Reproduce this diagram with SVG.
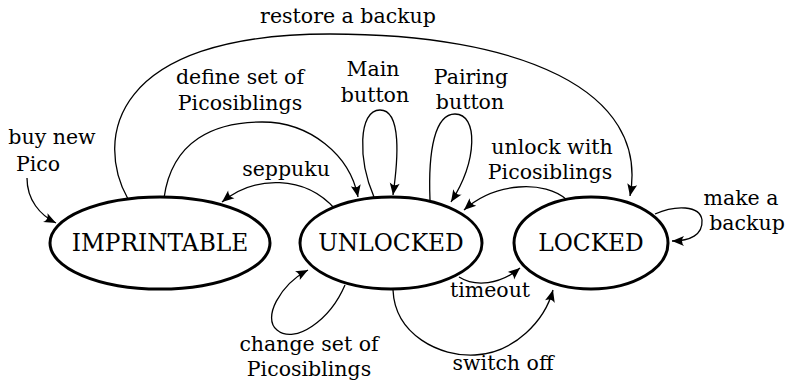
<svg xmlns="http://www.w3.org/2000/svg" width="788" height="382" viewBox="0 0 788 382">
<style>
.node{fill:#fff;stroke:#000;stroke-width:3}
text{fill:#000;text-anchor:middle}
.nl{font-size:23.3px}
.el{font-size:20.5px}
.edge{fill:none;stroke:#000;stroke-width:1.3;marker-end:url(#arr)}
</style>
<defs>
<marker id="arr" viewBox="-13 -6 14 12" refX="0" refY="0" markerWidth="14" markerHeight="12" markerUnits="userSpaceOnUse" orient="auto">
<path d="M0,0 L-12,-5 Q-8,0 -12,5 Z" fill="#000"/>
</marker>
</defs>
<g id="connectors">
<path class="edge" d="M27,178 C27,200 40,215 56,223"/>
<path class="edge" d="M128,199 C95,140 110,34 330,34 C520,34 650,90 630,196"/>
<path class="edge" d="M164,198 C172,140 215,122 262,122 C310,122 350,155 358,197"/>
<path class="edge" d="M335,209 C305,175 255,175 222,202"/>
<path class="edge" d="M374,197 C358,160 358,110 380,110 C402,110 398,160 393,195"/>
<path class="edge" d="M430,200 C428,150 435,114 455,114 C478,114 478,160 451,202"/>
<path class="edge" d="M567,200 C545,180 495,182 464,210"/>
<path class="edge" d="M655,214 C675,205 700,205 702,220 C703,235 690,241 672,241"/>
<path class="edge" d="M459,277 C475,287 500,285 520,268"/>
<path class="edge" d="M393,290 C395,335 440,357 475,355 C515,353 545,320 553,290"/>
<path class="edge" d="M345,285 C330,320 295,345 277,330 C262,318 280,285 308,270"/>
</g>
<g font-family="DejaVu Serif, serif">
<g id="imprintable">
<ellipse class="node" cx="160" cy="243" rx="110" ry="46"/>
<text class="nl" x="160" y="251">IMPRINTABLE</text>
</g>
<g id="unlocked">
<ellipse class="node" cx="391" cy="243" rx="91" ry="46"/>
<text class="nl" x="391" y="251">UNLOCKED</text>
</g>
<g id="locked">
<ellipse class="node" cx="591" cy="243" rx="77" ry="46"/>
<text class="nl" x="591" y="251">LOCKED</text>
</g>
<g id="labels">
<text class="el" x="52" y="144">buy new<tspan x="38" y="171">Pico</tspan></text>
<text class="el" x="348" y="23">restore a backup</text>
<text class="el" x="240" y="84">define set of<tspan x="240" y="110">Picosiblings</tspan></text>
<text class="el" x="373" y="76">Main<tspan x="375" y="102">button</tspan></text>
<text class="el" x="471" y="84">Pairing<tspan x="470" y="109">button</tspan></text>
<text class="el" x="552" y="154">unlock with<tspan x="550" y="179">Picosiblings</tspan></text>
<text class="el" x="286" y="176">seppuku</text>
<text class="el" x="741" y="205">make a<tspan x="747" y="230">backup</tspan></text>
<text class="el" x="490" y="297">timeout</text>
<text class="el" x="503" y="370">switch off</text>
<text class="el" x="309" y="351">change set of<tspan x="309" y="376">Picosiblings</tspan></text>
</g>
</g>
</svg>
